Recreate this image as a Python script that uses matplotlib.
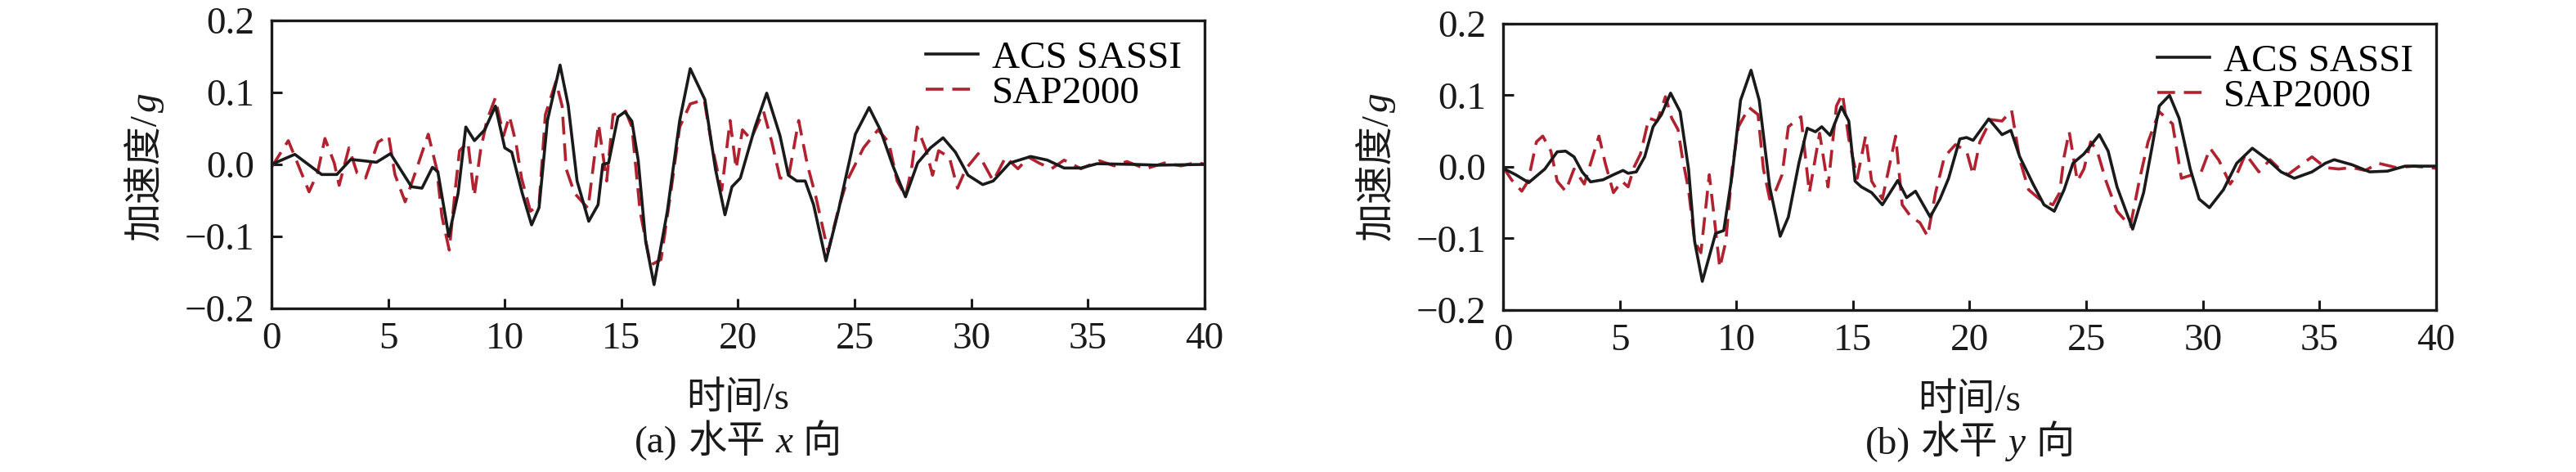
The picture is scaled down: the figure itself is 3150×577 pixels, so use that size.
import numpy as np
import matplotlib
matplotlib.use('Agg')
import matplotlib.pyplot as plt
from matplotlib.offsetbox import TextArea, HPacker, AnchoredOffsetbox

# Fuentes: Times para el texto latino, CJK como respaldo
plt.rcParams['font.family'] = ['Liberation Serif', 'Noto Sans CJK SC']
plt.rcParams['axes.unicode_minus'] = True

# (a) horizontal x
t_a_acs = [0, 1.0, 2.15, 2.8, 3.4, 4.5, 5.1, 6.0, 6.45, 6.9, 7.13, 7.6, 8.0, 8.33, 8.7,
           9.14, 9.6, 10.0, 10.3, 10.75, 11.15, 11.47, 11.83, 12.37, 12.72, 13.1, 13.6,
           14.0, 14.2, 14.45, 14.85, 15.15, 15.45, 15.72, 16.04, 16.4, 16.97, 17.5, 17.95,
           18.58, 19.03, 19.44, 19.74, 20.1, 20.73, 21.23, 21.8, 22.16, 22.52, 22.88, 23.24,
           23.77, 24.3, 25.03, 25.62, 26.1, 26.64, 27.18, 27.7, 28.25, 28.79, 29.32, 29.86,
           30.49, 30.94, 31.65, 32.55, 33.26, 33.98, 34.7, 35.4, 37.0, 38.0, 40.0]
g_a_acs = [0, 0.014, -0.014, -0.014, 0.007, 0.003, 0.015, -0.031, -0.033, -0.004, -0.01,
           -0.100, -0.04, 0.052, 0.033, 0.048, 0.081, 0.023, 0.017, -0.04, -0.084, -0.06,
           0.061, 0.138, 0.082, -0.023, -0.079, -0.056, 0.0, 0.002, 0.066, 0.073, 0.06,
           0.006, -0.107, -0.167, -0.065, 0.061, 0.133, 0.09, -0.006, -0.07, -0.031, -0.019,
           0.052, 0.099, 0.04, -0.015, -0.023, -0.023, -0.056, -0.134, -0.065, 0.042, 0.079,
           0.048, -0.002, -0.045, 0.002, 0.023, 0.037, 0.017, -0.015, -0.028, -0.023, 0.002,
           0.011, 0.006, -0.005, -0.005, 0.001, 0.0, -0.001, 0.0]

t_a_sap = [0, 0.72, 1.16, 1.61, 1.97, 2.29, 2.69, 2.9, 3.32, 3.67, 4.03, 4.57, 5.02, 5.29,
           5.73, 6.18, 6.72, 7.08, 7.31, 7.62, 7.89, 8.06, 8.42, 8.69, 8.96, 9.23, 9.59,
           9.95, 10.2, 10.48, 10.72, 11.1, 11.47, 11.74, 12.19, 12.46, 12.63, 12.99, 13.57,
           14.02, 14.37, 14.64, 15.18, 15.45, 15.8, 16.25, 16.7, 17.15, 17.5, 17.95, 18.55,
           18.85, 19.3, 19.66, 19.92, 20.19, 20.55, 21.09, 21.45, 21.8, 22.16, 22.6, 22.97,
           23.33, 23.86, 24.31, 24.67, 25.38, 26.0, 26.46, 26.82, 27.18, 27.44, 27.68, 28.07,
           28.34, 28.6, 29.06, 29.41, 29.77, 30.3, 30.94, 31.47, 32.0, 32.46, 32.9, 33.44,
           33.98, 34.7, 35.5, 36.13, 36.67, 37.47, 38.28, 39.0, 39.7, 40.0]
g_a_sap = [-0.004, 0.033, -0.002, -0.038, -0.012, 0.036, 0.002, -0.029, 0.023, -0.012,
           -0.019, 0.031, 0.04, -0.014, -0.052, -0.01, 0.042, -0.006, -0.073, -0.119, -0.031,
           0.019, 0.031, -0.044, 0.019, 0.061, 0.092, 0.04, 0.067, 0.03, -0.019, -0.065,
           -0.056, 0.069, 0.115, 0.081, -0.006, -0.04, -0.061, 0.056, -0.023, 0.069, 0.074,
           0.052, -0.065, -0.14, -0.132, -0.031, 0.052, 0.084, 0.09, 0.031, -0.036, 0.061,
           -0.006, 0.048, 0.035, 0.074, 0.031, -0.019, -0.019, 0.061, 0.0, -0.044, -0.121,
           -0.061, -0.023, 0.023, 0.048, 0.031, -0.023, -0.044, -0.006, 0.052, 0.019, -0.015,
           0.019, 0.01, -0.033, -0.006, 0.015, -0.023, 0.01, -0.006, 0.01, 0.002, -0.006,
           0.006, -0.006, 0.005, -0.002, 0.004, -0.006, 0.002, -0.002, 0.003, 0.0]

# (b) horizontal y
t_b_acs = [0, 0.54, 1.1, 1.79, 2.32, 2.68, 3.04, 3.39, 3.75, 4.29, 4.73, 5.14, 5.36, 5.71,
           6.07, 6.43, 6.79, 7.18, 7.59, 7.95, 8.21, 8.54, 8.84, 9.11, 9.46, 9.82, 10.18,
           10.63, 10.98, 11.43, 11.88, 12.23, 12.68, 13.04, 13.39, 13.66, 14.02, 14.5, 14.82,
           15.09, 15.36, 15.8, 16.26, 16.92, 17.3, 17.68, 18.31, 18.73, 19.1, 19.58, 19.87,
           20.15, 20.82, 21.39, 21.77, 22.15, 22.72, 23.19, 23.63, 24.05, 24.43, 24.9, 25.56,
           25.94, 26.32, 26.99, 27.46, 27.84, 28.13, 28.57, 28.98, 29.46, 29.84, 30.28, 30.88,
           31.45, 32.12, 32.78, 33.35, 33.92, 34.68, 35.25, 35.63, 36.39, 37.15, 37.91, 38.67,
           40.0]
g_b_acs = [-0.002, -0.011, -0.022, -0.003, 0.021, 0.022, 0.014, -0.007, -0.021, -0.018,
           -0.011, -0.005, -0.009, -0.007, 0.014, 0.056, 0.073, 0.103, 0.077, -0.003, -0.104,
           -0.160, -0.125, -0.093, -0.089, -0.011, 0.093, 0.135, 0.093, -0.028, -0.097, -0.07,
           0.005, 0.054, 0.049, 0.056, 0.044, 0.084, 0.064, -0.02, -0.028, -0.036, -0.053,
           -0.019, -0.043, -0.034, -0.07, -0.045, -0.016, 0.039, 0.041, 0.037, 0.067, 0.045,
           0.051, 0.014, -0.024, -0.053, -0.062, -0.032, 0.005, 0.018, 0.045, 0.022, -0.028,
           -0.087, -0.036, 0.031, 0.085, 0.1, 0.068, -0.003, -0.045, -0.057, -0.032, 0.005,
           0.026, 0.01, -0.007, -0.016, -0.007, 0.005, 0.01, 0.003, -0.007, -0.006, 0.001, 0.001]

t_b_sap = [0, 0.36, 0.8, 1.07, 1.43, 1.7, 2.05, 2.32, 2.68, 3.04, 3.48, 3.84, 4.11, 4.38,
           4.73, 5.09, 5.36, 5.62, 5.89, 6.25, 6.61, 6.96, 7.23, 7.5, 7.68, 7.95, 8.21, 8.48,
           8.84, 9.02, 9.29, 9.55, 9.82, 10.09, 10.54, 10.93, 11.16, 11.43, 11.7, 11.96,
           12.23, 12.77, 13.13, 13.57, 13.93, 14.29, 14.55, 14.82, 15.18, 15.54, 15.8, 16.26,
           16.83, 17.11, 17.49, 17.87, 18.2, 18.54, 18.92, 19.39, 19.87, 20.15, 20.44, 20.91,
           21.39, 21.8, 22.15, 22.53, 23.0, 23.57, 23.86, 24.05, 24.27, 24.62, 24.9, 25.19,
           25.47, 25.85, 26.32, 26.89, 27.27, 27.65, 28.13, 28.7, 29.08, 29.55, 29.93, 30.31,
           30.69, 31.17, 31.45, 31.83, 32.4, 32.88, 33.26, 33.64, 34.3, 34.68, 35.25, 35.82,
           36.39, 36.96, 37.53, 38.29, 39.05, 40.0]
g_b_sap = [0, -0.018, -0.034, -0.02, 0.035, 0.043, 0.022, -0.02, -0.034, -0.003, -0.024,
           0.014, 0.043, 0.005, -0.036, -0.02, -0.028, 0.0, 0.018, 0.068, 0.064, 0.098, 0.068,
           0.052, 0.014, -0.032, -0.104, -0.12, -0.011, -0.062, -0.141, -0.104, -0.003, 0.056,
           0.083, 0.073, -0.003, -0.045, -0.032, -0.011, 0.056, 0.07, -0.036, 0.047, -0.028,
           0.085, 0.102, 0.039, -0.016, 0.043, -0.02, -0.045, 0.043, -0.053, -0.07, -0.078,
           -0.097, -0.036, 0.014, 0.031, 0.022, -0.011, 0.035, 0.066, 0.064, 0.079, 0.01,
           -0.032, -0.045, -0.053, -0.036, 0.014, 0.049, -0.02, -0.003, 0.035, 0.022, -0.02,
           -0.062, -0.083, -0.02, 0.035, 0.077, 0.06, -0.016, -0.011, -0.007, 0.026, 0.009,
           -0.024, -0.011, 0.018, -0.007, 0.01, -0.002, -0.011, 0.005, 0.014, -0.001, -0.003,
           -0.001, -0.005, 0.005, -0.001, 0.001, -0.002]

tick_x = [0, 5, 10, 15, 20, 25, 30, 35, 40]
tick_y = [-0.2, -0.1, 0.0, 0.1, 0.2]
tick_y_lbl = ['\u22120.2', '\u22120.1', '0.0', '0.1', '0.2']

negro = '#1a1a1a'
rojo = '#B0222F'
fs = 34

fig = plt.figure(figsize=(31.5, 5.77), dpi=100)
renderer = fig.canvas.get_renderer()
paneles = [
    ([0.1054, 0.3466, 0.3622, 0.6101], t_a_acs, g_a_acs, t_a_sap, g_a_sap, ('(a)', '水平', 'x', '向')),
    ([0.5835, 0.3432, 0.3622, 0.6066], t_b_acs, g_b_acs, t_b_sap, g_b_sap, ('(b)', '水平', 'y', '向')),
]

for pos, t1, g1, t2, g2, titulo in paneles:
    ax = fig.add_axes(pos)
    ax.plot(t1, g1, color=negro, lw=2.6, label='ACS SASSI', zorder=3)
    ax.plot(t2, g2, color=rojo, lw=2.6, linestyle=(0, (6, 3)), label='SAP2000', zorder=2)
    ax.set_xlim(0, 40)
    ax.set_ylim(-0.2, 0.2)
    ax.set_xticks(tick_x)
    ax.set_yticks(tick_y)
    ax.set_yticklabels(tick_y_lbl)
    ax.tick_params(direction='in', length=9, width=2.2, labelsize=fs, colors=negro)
    ax.tick_params(axis='x', pad=12)
    ax.tick_params(axis='y', pad=15)
    for s in ax.spines.values():
        s.set_linewidth(2.4)
        s.set_color(negro)
    ax.set_xlabel('时间/s', fontsize=fs, color=negro)
    ax.xaxis.set_label_coords(0.5, -0.255)

    # etiqueta del eje y: "加速度/" + g en cursiva, girada
    x_px = pos[0] * 3150 - 141
    yc_px = 577 - 205
    p1 = ax.text(0, 0, '加速度/', rotation=90, rotation_mode='anchor', ha='left',
                 va='baseline', fontsize=fs, color=negro, transform=None)
    p2 = ax.text(0, 0, 'g', rotation=90, rotation_mode='anchor', ha='left',
                 va='baseline', fontsize=fs, color=negro, style='italic', transform=None)
    l1 = p1.get_window_extent(renderer).height
    l2 = p2.get_window_extent(renderer).height
    y0 = yc_px - (l1 + l2) / 2
    p1.set_position((x_px, y0))
    p2.set_position((x_px, y0 + l1 + 2))

    # pie de figura con la letra en cursiva
    partes = [TextArea(titulo[0], textprops=dict(fontsize=fs, color=negro)),
              TextArea(titulo[1], textprops=dict(fontsize=fs, color=negro)),
              TextArea(titulo[2], textprops=dict(fontsize=fs, color=negro, style='italic')),
              TextArea(titulo[3], textprops=dict(fontsize=fs, color=negro))]
    caja = HPacker(children=partes, sep=9, pad=0, align='baseline')
    anc = AnchoredOffsetbox(loc='center', child=caja, frameon=False, pad=0, borderpad=0,
                            bbox_to_anchor=(0.5, -0.465), bbox_transform=ax.transAxes)
    ax.add_artist(anc)

    ax.legend(loc='upper right', frameon=False, fontsize=fs, handlelength=1.35,
              handletextpad=0.35, labelspacing=0.0, borderaxespad=0.2,
              bbox_to_anchor=(1.0, 1.01))

fig.savefig('out.png', dpi=100, facecolor='white')
